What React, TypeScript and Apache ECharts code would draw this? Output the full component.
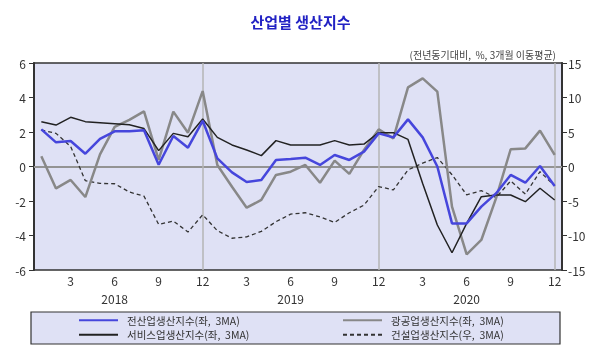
import React, { useEffect, useRef } from "react";
import * as echarts from "echarts";

const years = ["2018", "2019", "2020"];
const monthNums = [1, 2, 3, 4, 5, 6, 7, 8, 9, 10, 11, 12];
const categories = years.flatMap((y) => monthNums.map((m) => `${y}.${m}`));

const allIndustry = [2.15, 1.4, 1.48, 0.74, 1.6, 2.04, 2.04, 2.1, 0.1, 1.77, 1.09, 2.65,
  0.47, -0.34, -0.9, -0.78, 0.38, 0.43, 0.51, 0.09, 0.67, 0.38, 0.86, 1.92,
  1.69, 2.73, 1.69, 0.0, -3.3, -3.3, -2.33, -1.56, -0.49, -0.94, 0.03, -1.13];
const mining = [0.6, -1.27, -0.78, -1.77, 0.7, 2.3, 2.7, 3.2, 0.38, 3.18, 1.96, 4.37,
  0.09, -1.17, -2.39, -1.94, -0.49, -0.3, 0.09, -0.94, 0.34, -0.43, 0.96, 2.15,
  1.63, 4.59, 5.11, 4.34, -2.33, -5.1, -4.26, -1.85, 1.0, 1.05, 2.08, 0.67];
const service = [2.6, 2.4, 2.85, 2.6, 2.54, 2.48, 2.42, 2.2, 0.92, 1.92, 1.73, 2.75,
  1.69, 1.25, 0.96, 0.63, 1.5, 1.25, 1.25, 1.25, 1.5, 1.25, 1.3, 1.96,
  1.96, 1.57, -0.98, -3.39, -5.0, -3.3, -1.75, -1.65, -1.65, -2.04, -1.26, -1.94];
const construction = [5.3, 4.8, 2.9, -2.05, -2.45, -2.5, -3.7, -4.3, -8.4, -7.9, -9.5, -7.0,
  -9.3, -10.4, -10.2, -9.4, -8.0, -6.9, -6.7, -7.3, -8.1, -6.7, -5.6, -2.9,
  -3.4, -0.5, 0.5, 1.3, -1.2, -4.1, -3.5, -4.5, -2.1, -4.0, -0.75, -2.8];

const seriesNames = [
  "전산업생산지수(좌,\u00a0 3MA)",
  "광공업생산지수(좌,\u00a0 3MA)",
  "서비스업생산지수(좌,\u00a0 3MA)",
  "건설업생산지수(우,\u00a0 3MA)",
];
const decemberMarks = [categories[11], categories[23], categories[35]];

const FONT = "'Noto Sans CJK KR', 'Noto Sans', sans-serif";
const BG = "#dfe1f5";

export default function App() {
  const ref = useRef<HTMLDivElement>(null);
  useEffect(() => {
    if (!ref.current) return;
    const chart = echarts.init(ref.current, null, { renderer: "svg" });
    const legendCommon = {
      itemWidth: 39,
      itemHeight: 10,
      itemGap: 0,
      padding: 0,
      itemStyle: { opacity: 0 },
      textStyle: { fontFamily: FONT, fontSize: 10.5, color: "#333", padding: [0, 0, 0, 4] },
      selectedMode: false,
    };
    chart.setOption({
      animation: false,
      textStyle: { fontFamily: FONT },
      title: [
        {
          text: "산업별 생산지수",
          left: "center",
          top: 9,
          textStyle: { fontFamily: FONT, fontSize: 15, fontWeight: "bold", color: "#2222c4" },
        },
        {
          text: "(전년동기대비,\u00a0 %, 3개월 이동평균)",
          right: 40,
          top: 44,
          textStyle: { fontFamily: FONT, fontSize: 10, fontWeight: "normal", color: "#444" },
        },
      ],
      grid: {
        left: 34,
        right: 39,
        top: 63,
        bottom: 82,
        show: true,
        backgroundColor: BG,
        borderColor: "#333",
        borderWidth: 1.5,
      },
      graphic: [
        {
          type: "rect",
          shape: { x: 31, y: 312, width: 529, height: 32 },
          style: { fill: BG, stroke: "#333", lineWidth: 1.2 },
          z: 0,
        },
      ],
      legend: [
        { ...legendCommon, left: 78, top: 315, data: [seriesNames[0]] },
        { ...legendCommon, left: 342, top: 315, data: [seriesNames[1]] },
        { ...legendCommon, left: 78, top: 329.5, data: [seriesNames[2]] },
        { ...legendCommon, left: 342, top: 329.5, data: [seriesNames[3]] },
      ],
      xAxis: {
        type: "category",
        data: categories,
        boundaryGap: true,
        axisLine: { lineStyle: { color: "#333", width: 2 } },
        axisTick: { show: false },
        splitLine: { show: false },
        axisLabel: {
          interval: (i: number) => (i + 1) % 3 === 0,
          margin: 1,
          lineHeight: 18,
          fontSize: 12,
          color: "#333",
          fontFamily: FONT,
          formatter: (v: string) => {
            const [y, m] = v.split(".");
            return m === "6" ? `${m}\n${y}` : m;
          },
        },
      },
      yAxis: [
        {
          type: "value",
          min: -6,
          max: 6,
          interval: 2,
          position: "left",
          axisLine: { show: true, lineStyle: { color: "#333", width: 2 } },
          axisTick: { show: true, length: 5, lineStyle: { color: "#333" } },
          splitLine: { show: false },
          axisLabel: { fontSize: 12, color: "#333", margin: 8, fontFamily: FONT },
        },
        {
          type: "value",
          min: -15,
          max: 15,
          interval: 5,
          position: "right",
          axisLine: { show: true, lineStyle: { color: "#333", width: 2 } },
          axisTick: { show: true, length: 5, lineStyle: { color: "#333" } },
          splitLine: { show: false },
          axisLabel: { fontSize: 12, color: "#333", margin: 6, fontFamily: FONT },
        },
      ],
      series: [
        {
          name: seriesNames[3],
          type: "line",
          yAxisIndex: 1,
          data: construction,
          showSymbol: false,
          symbol: "none",
          lineStyle: { color: "#333", width: 1.3, type: [4, 3] },
          itemStyle: { color: "#333" },
          markLine: {
            silent: true,
            symbol: "none",
            label: { show: false },
            lineStyle: { color: "#b4b4b4", width: 1.5, type: "solid" },
            data: [
              { yAxis: 0 },
              ...decemberMarks.map((c) => ({ xAxis: c })),
            ],
            z: 1,
          },
        },
        {
          name: seriesNames[1],
          type: "line",
          data: mining,
          showSymbol: false,
          symbol: "none",
          lineStyle: { color: "#888888", width: 2.5 },
          itemStyle: { color: "#888888" },
        },
        {
          name: seriesNames[2],
          type: "line",
          data: service,
          showSymbol: false,
          symbol: "none",
          lineStyle: { color: "#222222", width: 1.5 },
          itemStyle: { color: "#222222" },
        },
        {
          name: seriesNames[0],
          type: "line",
          data: allIndustry,
          showSymbol: false,
          symbol: "none",
          lineStyle: { color: "#4646dc", width: 2.5 },
          itemStyle: { color: "#4646dc" },
        },
      ],
    });
    return () => chart.dispose();
  }, []);
  return (
    <div
      ref={ref}
      style={{ position: "fixed", left: 0, top: 0, width: 601, height: 352 }}
    />
  );
}
